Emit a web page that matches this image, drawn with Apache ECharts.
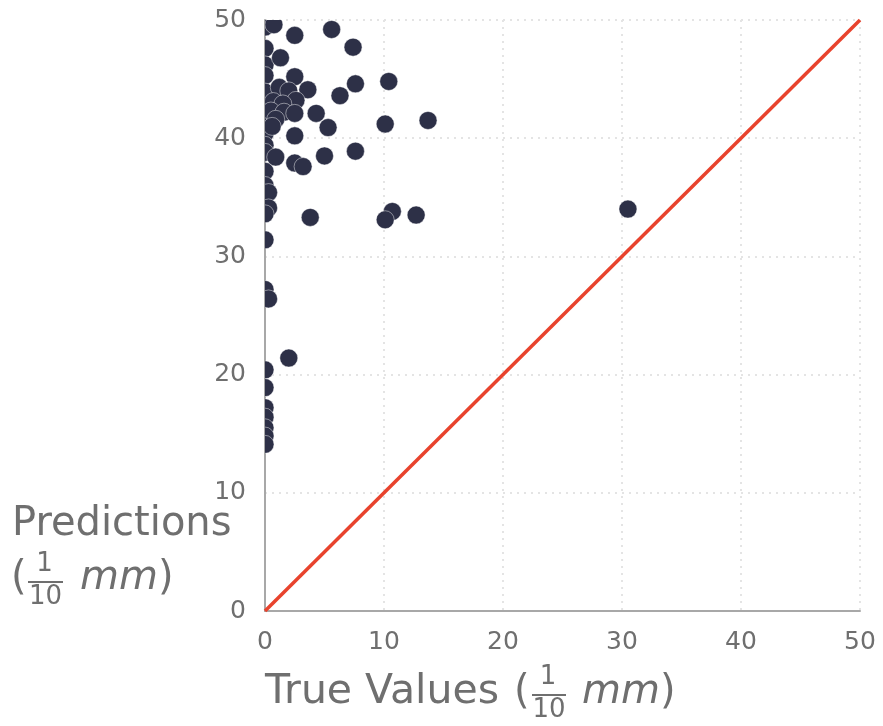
<!DOCTYPE html>
<html>
<head>
<meta charset="utf-8">
<script src="https://cdn.jsdelivr.net/npm/echarts@6/dist/echarts.min.js"></script>
<style>
  html, body { margin: 0; padding: 0; background: #ffffff; }
  #chart { width: 883px; height: 726px; }
</style>
</head>
<body>
<div id="chart"></div>
<script>
// Observed values (x) and model predictions (y), both in tenths of a millimetre
const trueValues = [
  0, 0, 0, 0, 0, 0, 0, 0, 0, 0, 0, 0, 0.3, 0.3, 0, 0, 0, 0.3, 0, 0, 0, 0, 0, 0, 0,
  0.75, 2.5, 5.6, 7.4, 1.3, 2.5, 10.4, 7.6, 3.6, 6.3, 1.2, 2.0, 2.6, 0.7, 1.5, 0.5,
  1.6, 0.9, 0.6, 2.5, 4.3, 13.7, 10.1, 5.3, 2.5, 7.6, 5.0, 0.9, 2.5, 3.2, 30.5,
  10.7, 10.1, 12.7, 3.8, 2.0
];
const predictions = [
  49.4, 47.6, 46.2, 45.3, 43.9, 42.6, 41.2, 40.4, 39.4, 38.8, 37.2, 36.0, 35.4, 34.1, 33.6, 31.4, 27.2, 26.4, 20.4, 18.9, 17.2, 16.4, 15.5, 14.8, 14.1,
  49.6, 48.7, 49.2, 47.7, 46.8, 45.2, 44.8, 44.6, 44.1, 43.6, 44.3, 44.0, 43.2, 43.1, 42.9, 42.3,
  42.2, 41.6, 41.0, 42.1, 42.1, 41.5, 41.2, 40.9, 40.2, 38.9, 38.5, 38.4, 37.9, 37.6, 34.0,
  33.8, 33.1, 33.5, 33.3, 21.4
];
// Ideal-fit reference: prediction equals true value
const identityX = [0, 50];
const identityY = [0, 50];
const axisTicks = [0, 10, 20, 30, 40, 50];

const TEXT = '#6f6f6f';
const FONT = 'DejaVu Sans';
const NAME_PX = 40;
const FRAC_PX = 26;

const chart = echarts.init(document.getElementById('chart'), null, { renderer: 'canvas' });

function axisCommon() {
  return {
    type: 'value',
    min: axisTicks[0],
    max: axisTicks[axisTicks.length - 1],
    interval: axisTicks[1] - axisTicks[0],
    axisLine: { show: true, lineStyle: { color: '#a8a8a8', width: 2 } },
    axisTick: { show: false },
    axisLabel: { color: TEXT, fontFamily: FONT, fontSize: 25, margin: 19 },
    splitLine: { show: true, lineStyle: { color: '#e4e4e4', width: 2, type: [2, 5] } }
  };
}

const fracFont = FRAC_PX + 'px "' + FONT + '"';

// Stacked "1 over 10" fraction used inside the axis titles
function fractionGroup(left, barY, width) {
  const cx = left + width / 2;
  return [
    { type: 'text', style: { text: '1', x: cx - 1, y: barY - 18, font: fracFont, fill: TEXT, textAlign: 'center', textVerticalAlign: 'middle' } },
    { type: 'line', shape: { x1: left, y1: barY, x2: left + width, y2: barY }, style: { stroke: TEXT, lineWidth: 2 } },
    { type: 'text', style: { text: '10', x: cx, y: barY + 15, font: fracFont, fill: TEXT, textAlign: 'center', textVerticalAlign: 'middle' } }
  ];
}

function plainText(text, x, y, size) {
  return { type: 'text', style: { text: text, x: x, y: y, font: (size || NAME_PX) + 'px "' + FONT + '"', fill: TEXT, textVerticalAlign: 'middle' } };
}

// Italic unit followed by the closing parenthesis
function unitText(x, y) {
  return {
    type: 'text',
    style: {
      text: '{i|mm}{n|)}', x: x, y: y, fill: TEXT, textVerticalAlign: 'middle',
      rich: {
        i: { fontFamily: FONT, fontSize: NAME_PX, fontStyle: 'italic', fill: TEXT },
        n: { fontFamily: FONT, fontSize: NAME_PX, fill: TEXT }
      }
    }
  };
}

const graphics = [
  // x-axis title
  plainText('True Values', 265, 692, 41),
  plainText('(', 514, 693),
  ...fractionGroup(532, 695, 34),
  unitText(582, 693),
  // y-axis title
  plainText('Predictions', 12, 525),
  plainText('(', 11, 579),
  ...fractionGroup(28, 582, 35),
  unitText(80, 579)
];

const points = trueValues.map((x, i) => [x, predictions[i]]);
const identity = identityX.map((x, i) => [x, identityY[i]]);

chart.setOption({
  animation: false,
  backgroundColor: '#ffffff',
  grid: { left: 265, right: 23, top: 20, bottom: 115, containLabel: false },
  xAxis: axisCommon(),
  yAxis: axisCommon(),
  graphic: { elements: graphics },
  series: [
    {
      type: 'line',
      data: identity,
      showSymbol: false,
      silent: true,
      z: 2,
      lineStyle: { color: '#e8432d', width: 3.5 }
    },
    {
      type: 'custom',
      clip: true,
      z: 3,
      data: points,
      encode: { x: 0, y: 1 },
      renderItem: function (params, api) {
        const p = api.coord([api.value(0), api.value(1)]);
        return {
          type: 'circle',
          shape: { cx: p[0], cy: p[1], r: 9 },
          style: { fill: '#2d3047', stroke: 'rgba(255,255,255,0.45)', lineWidth: 1 }
        };
      }
    }
  ]
});
</script>
</body>
</html>
